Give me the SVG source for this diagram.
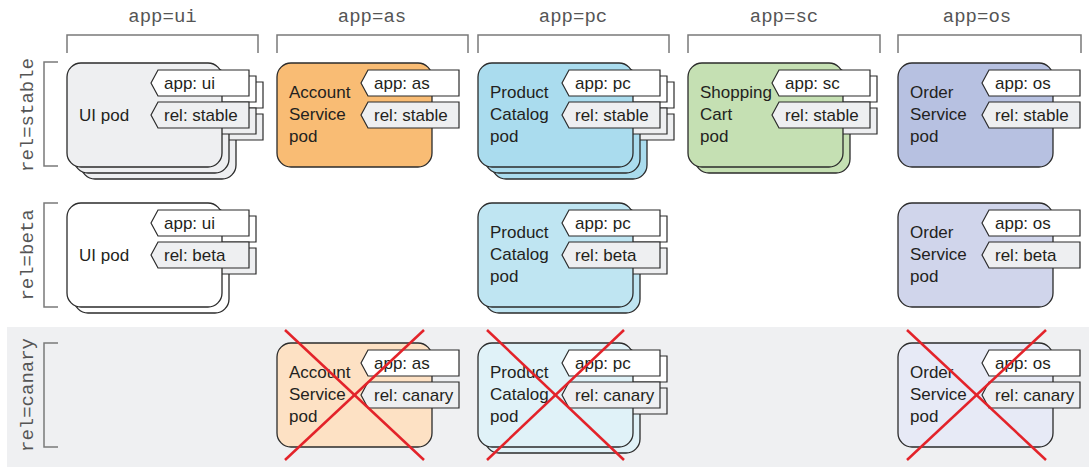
<svg xmlns="http://www.w3.org/2000/svg" xmlns:xlink="http://www.w3.org/1999/xlink" width="1089" height="467" viewBox="0 0 1089 467">
<style>
.card{stroke:#2b2b2b;stroke-width:1.3}
.tapp{fill:#ffffff;stroke:#2b2b2b;stroke-width:1.2}
.trel{fill:#eeeff1;stroke:#2b2b2b;stroke-width:1.2}
.lbl{font-family:"Liberation Sans",Arial,sans-serif;font-size:17px;fill:#231f20}
.hdr{font-family:"Liberation Mono","Courier New",monospace;font-size:19px;fill:#555555}
.brk{fill:none;stroke:#7a7a7a;stroke-width:1.5}
.x{stroke:#e3232a;stroke-width:2.5;stroke-linecap:butt}
.f-uis{fill:#eeeff1}.f-uib{fill:#ffffff}
.f-ass{fill:#f9bc74}.f-asc{fill:#fde1c4}
.f-pcs{fill:#aadcee}.f-pcb{fill:#bfe5f2}.f-pcc{fill:#e0f2f8}
.f-scs{fill:#c5e0b3}
.f-oss{fill:#b7c1e1}.f-osb{fill:#d0d5eb}.f-osc{fill:#e7eaf6}
</style>
<defs>
<rect id="card" width="155" height="104" rx="14" ry="14"/>
<polygon id="tag" points="0,13 7,0 98,0 98,26 7,26"/>
</defs>

<rect id="canary-band" x="7" y="327" width="1082" height="140" fill="#eff0f2"/>

<g id="headers">
<text class="hdr" x="162.5" y="22" text-anchor="middle">app=ui</text>
<text class="hdr" x="372" y="22" text-anchor="middle">app=as</text>
<text class="hdr" x="573" y="22" text-anchor="middle">app=pc</text>
<text class="hdr" x="784" y="22" text-anchor="middle">app=sc</text>
<text class="hdr" x="977" y="22" text-anchor="middle">app=os</text>
<path class="brk" d="M67,53 V35 H258 V53"/>
<path class="brk" d="M277,53 V35 H468 V53"/>
<path class="brk" d="M478,53 V35 H669 V53"/>
<path class="brk" d="M688,53 V35 H880 V53"/>
<path class="brk" d="M898,53 V35 H1081 V53"/>
</g>

<g id="row-labels">
<text class="hdr" x="33" y="115" text-anchor="middle" transform="rotate(-90 33 115)">rel=stable</text>
<text class="hdr" x="33" y="255" text-anchor="middle" transform="rotate(-90 33 255)">rel=beta</text>
<text class="hdr" x="33" y="395" text-anchor="middle" transform="rotate(-90 33 395)">rel=canary</text>
<path class="brk" d="M58,62 H44 V166 H58"/>
<path class="brk" d="M58,203 H44 V307 H58"/>
<path class="brk" d="M58,343 H44 V447 H58"/>
</g>

<g id="connectors"></g>

<!-- stable row -->
<g id="pod-ui-stable" transform="translate(67,63)">
<g transform="translate(14,12)"><use href="#card" class="card f-uis"/><use href="#tag" x="84" y="7" class="tapp"/><use href="#tag" x="84" y="39" class="trel"/></g>
<g transform="translate(7,6)"><use href="#card" class="card f-uis"/><use href="#tag" x="84" y="7" class="tapp"/><use href="#tag" x="84" y="39" class="trel"/></g>
<use href="#card" class="card f-uis"/><use href="#tag" x="84" y="7" class="tapp"/><use href="#tag" x="84" y="39" class="trel"/>
<text class="lbl" x="12" y="58">UI pod</text>
<text class="lbl" x="97" y="26">app: ui</text>
<text class="lbl" x="97" y="58">rel: stable</text>
</g>

<g id="pod-as-stable" transform="translate(277,63)">
<use href="#card" class="card f-ass"/><use href="#tag" x="84" y="7" class="tapp"/><use href="#tag" x="84" y="39" class="trel"/>
<text class="lbl" x="12" y="35">Account</text>
<text class="lbl" x="12" y="57">Service</text>
<text class="lbl" x="12" y="79">pod</text>
<text class="lbl" x="97" y="26">app: as</text>
<text class="lbl" x="97" y="58">rel: stable</text>
</g>

<g id="pod-pc-stable" transform="translate(478,63)">
<g transform="translate(14,12)"><use href="#card" class="card f-pcs"/><use href="#tag" x="84" y="7" class="tapp"/><use href="#tag" x="84" y="39" class="trel"/></g>
<g transform="translate(7,6)"><use href="#card" class="card f-pcs"/><use href="#tag" x="84" y="7" class="tapp"/><use href="#tag" x="84" y="39" class="trel"/></g>
<use href="#card" class="card f-pcs"/><use href="#tag" x="84" y="7" class="tapp"/><use href="#tag" x="84" y="39" class="trel"/>
<text class="lbl" x="12" y="35">Product</text>
<text class="lbl" x="12" y="57">Catalog</text>
<text class="lbl" x="12" y="79">pod</text>
<text class="lbl" x="97" y="26">app: pc</text>
<text class="lbl" x="97" y="58">rel: stable</text>
</g>

<g id="pod-sc-stable" transform="translate(688,63)">
<g transform="translate(7,6)"><use href="#card" class="card f-scs"/><use href="#tag" x="84" y="7" class="tapp"/><use href="#tag" x="84" y="39" class="trel"/></g>
<use href="#card" class="card f-scs"/><use href="#tag" x="84" y="7" class="tapp"/><use href="#tag" x="84" y="39" class="trel"/>
<text class="lbl" x="12" y="35">Shopping</text>
<text class="lbl" x="12" y="57">Cart</text>
<text class="lbl" x="12" y="79">pod</text>
<text class="lbl" x="97" y="26">app: sc</text>
<text class="lbl" x="97" y="58">rel: stable</text>
</g>

<g id="pod-os-stable" transform="translate(898,63)">
<use href="#card" class="card f-oss"/><use href="#tag" x="84" y="7" class="tapp"/><use href="#tag" x="84" y="39" class="trel"/>
<text class="lbl" x="12" y="35">Order</text>
<text class="lbl" x="12" y="57">Service</text>
<text class="lbl" x="12" y="79">pod</text>
<text class="lbl" x="97" y="26">app: os</text>
<text class="lbl" x="97" y="58">rel: stable</text>
</g>

<!-- beta row -->
<g id="pod-ui-beta" transform="translate(67,203)">
<g transform="translate(7,6)"><use href="#card" class="card f-uib"/><use href="#tag" x="84" y="7" class="tapp"/><use href="#tag" x="84" y="39" class="trel"/></g>
<use href="#card" class="card f-uib"/><use href="#tag" x="84" y="7" class="tapp"/><use href="#tag" x="84" y="39" class="trel"/>
<text class="lbl" x="12" y="58">UI pod</text>
<text class="lbl" x="97" y="26">app: ui</text>
<text class="lbl" x="97" y="58">rel: beta</text>
</g>

<g id="pod-pc-beta" transform="translate(478,203)">
<g transform="translate(7,6)"><use href="#card" class="card f-pcb"/><use href="#tag" x="84" y="7" class="tapp"/><use href="#tag" x="84" y="39" class="trel"/></g>
<use href="#card" class="card f-pcb"/><use href="#tag" x="84" y="7" class="tapp"/><use href="#tag" x="84" y="39" class="trel"/>
<text class="lbl" x="12" y="35">Product</text>
<text class="lbl" x="12" y="57">Catalog</text>
<text class="lbl" x="12" y="79">pod</text>
<text class="lbl" x="97" y="26">app: pc</text>
<text class="lbl" x="97" y="58">rel: beta</text>
</g>

<g id="pod-os-beta" transform="translate(898,203)">
<use href="#card" class="card f-osb"/><use href="#tag" x="84" y="7" class="tapp"/><use href="#tag" x="84" y="39" class="trel"/>
<text class="lbl" x="12" y="35">Order</text>
<text class="lbl" x="12" y="57">Service</text>
<text class="lbl" x="12" y="79">pod</text>
<text class="lbl" x="97" y="26">app: os</text>
<text class="lbl" x="97" y="58">rel: beta</text>
</g>

<!-- canary row -->
<g id="pod-as-canary" transform="translate(277,343)">
<use href="#card" class="card f-asc"/><use href="#tag" x="84" y="7" class="tapp"/><use href="#tag" x="84" y="39" class="trel"/>
<text class="lbl" x="12" y="35">Account</text>
<text class="lbl" x="12" y="57">Service</text>
<text class="lbl" x="12" y="79">pod</text>
<text class="lbl" x="97" y="26">app: as</text>
<text class="lbl" x="97" y="58">rel: canary</text>
<line class="x" x1="8" y1="-13" x2="147" y2="117"/>
<line class="x" x1="147" y1="-13" x2="8" y2="117"/>
</g>

<g id="pod-pc-canary" transform="translate(478,343)">
<g transform="translate(7,6)"><use href="#card" class="card f-pcc"/><use href="#tag" x="84" y="7" class="tapp"/><use href="#tag" x="84" y="39" class="trel"/></g>
<use href="#card" class="card f-pcc"/><use href="#tag" x="84" y="7" class="tapp"/><use href="#tag" x="84" y="39" class="trel"/>
<text class="lbl" x="12" y="35">Product</text>
<text class="lbl" x="12" y="57">Catalog</text>
<text class="lbl" x="12" y="79">pod</text>
<text class="lbl" x="97" y="26">app: pc</text>
<text class="lbl" x="97" y="58">rel: canary</text>
<line class="x" x1="9" y1="-13" x2="146" y2="117"/>
<line class="x" x1="146" y1="-13" x2="9" y2="117"/>
</g>

<g id="pod-os-canary" transform="translate(898,343)">
<use href="#card" class="card f-osc"/><use href="#tag" x="84" y="7" class="tapp"/><use href="#tag" x="84" y="39" class="trel"/>
<text class="lbl" x="12" y="35">Order</text>
<text class="lbl" x="12" y="57">Service</text>
<text class="lbl" x="12" y="79">pod</text>
<text class="lbl" x="97" y="26">app: os</text>
<text class="lbl" x="97" y="58">rel: canary</text>
<line class="x" x1="9" y1="-13" x2="148" y2="117"/>
<line class="x" x1="148" y1="-13" x2="9" y2="117"/>
</g>
</svg>
